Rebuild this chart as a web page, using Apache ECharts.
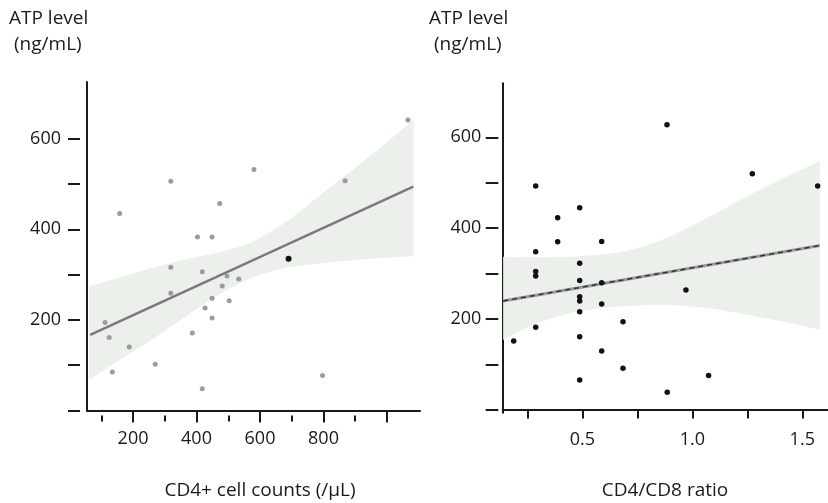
<!DOCTYPE html>
<html>
<head>
<meta charset="utf-8">
<script src="https://cdn.jsdelivr.net/npm/echarts@6/dist/echarts.min.js"></script>
<style>
  html, body { margin: 0; padding: 0; background: #fff; }
  #chart { width: 828px; height: 503px; }
</style>
</head>
<body>
<div id="chart"></div>
<script>
// Left panel: ATP vs CD4+ cell counts
const cd4X = [1066, 319, 581, 868, 158, 473, 403, 449, 319, 418, 496, 533, 481, 319, 449, 503, 427, 449, 112, 387, 125, 188, 270, 135, 797, 418];
const cd4Y = [641, 506, 532, 507, 435, 457, 383, 383, 316, 306, 297, 290, 275, 259, 248, 242, 226, 204, 194, 171, 161, 140, 102, 85, 77, 48];
const cd4Dark = [[690, 335]];
const cd4FitX = [65, 1083];
const cd4FitY = [167, 494];
const cd4BandX = [62, 150, 250, 350, 450, 500, 550, 600, 650, 700, 800, 900, 1000, 1084];
const cd4BandLo = [68, 108, 152, 200, 248, 268, 286, 300, 310, 317, 326, 332, 337, 341];
const cd4BandHi = [274, 292, 313, 331, 346, 354, 364, 380, 401, 425, 481, 536, 592, 642];

// Right panel: ATP vs CD4/CD8 ratio
const ratioX = [0.885, 1.273, 1.57, 0.288, 0.488, 0.388, 0.388, 0.588, 0.288, 0.288, 0.288, 0.488, 0.488, 0.588, 0.488, 0.488, 0.488, 0.588, 0.971, 0.685, 0.288, 0.188, 0.488, 0.588, 0.685, 1.074, 0.488, 0.886];
const ratioY = [628, 520, 493, 493, 445, 423, 370, 371, 348, 305, 295, 323, 285, 280, 249, 240, 216, 233, 264, 194, 182, 152, 161, 130, 92, 76, 66, 39];
const ratioFitX = [0.14, 1.58];
const ratioFitY = [240, 362];
const ratioBandX = [0.14, 0.2, 0.3, 0.45, 0.6, 0.7, 0.8, 0.9, 1.0, 1.1, 1.2, 1.3, 1.4, 1.5, 1.58];
const ratioBandLo = [154, 170, 193, 214, 225, 229, 231, 231, 228, 222, 214, 205, 196, 186, 176];
const ratioBandHi = [337, 336, 336, 337, 342, 350, 363, 382, 406, 431, 458, 483, 507, 530, 548];

// ticks and labels
const cd4MajorTicks = [200, 400, 600, 800, 1000];
const cd4MinorTicks = [100, 300, 500, 700, 900];
const cd4Labels = [200, 400, 600, 800];
const ratioTicks = [0.25, 0.5, 0.75, 1.0, 1.25, 1.5];
const ratioLabels = [0.5, 1.0, 1.5];
const atpTicks = [0, 100, 200, 300, 400, 500, 600];
const atpLabels = [200, 400, 600];

const FONT = 'Open Sans';
const ink = '#1a1a1a';
const chart = echarts.init(document.getElementById('chart'));

const pair = (xs, ys) => xs.map((x, i) => [x, ys[i]]);

const bandSeries = (xs, lo, hi, axisIdx) => ({
    type: 'custom',
    xAxisIndex: axisIdx,
    yAxisIndex: axisIdx,
    silent: true,
    z: 1,
    data: [[xs[0], lo[0]]],
    renderItem: (params, api) => {
        const pts = [];
        xs.forEach((x, i) => pts.push(api.coord([x, hi[i]])));
        for (let i = xs.length - 1; i >= 0; i--) pts.push(api.coord([xs[i], lo[i]]));
        return { type: 'polygon', shape: { points: pts }, style: { fill: '#ebf0ea' } };
    }
});

const mainX = (grid, min, max) => ({
    type: 'value', gridIndex: grid, min, max,
    axisLine: { lineStyle: { color: ink, width: 2 } },
    axisTick: { show: false }, axisLabel: { show: false }, splitLine: { show: false }
});
const mainY = (grid, min, max) => ({
    type: 'value', gridIndex: grid, min, max,
    axisLine: { show: true, lineStyle: { color: ink, width: 2 } },
    axisTick: { show: false }, axisLabel: { show: false }, splitLine: { show: false }
});
const tickAxis = (kind, grid, min, max, offset, ticks, len, labels, margin, fmt) => ({
    type: 'value', gridIndex: grid, min, max, offset,
    position: kind === 'x' ? 'bottom' : 'left',
    axisLine: { show: false },
    axisTick: { show: true, customValues: ticks, length: len, lineStyle: { color: ink, width: 2 } },
    axisLabel: labels ? {
        show: true, customValues: labels, margin, color: ink,
        fontFamily: FONT, fontSize: 18, formatter: fmt
    } : { show: false },
    splitLine: { show: false }
});

const txt = (text, x, y, align) => ({
    type: 'text', x, y,
    style: { text, font: '19px "Open Sans"', fill: ink, align: align || 'left', verticalAlign: 'middle' }
});

chart.setOption({
    animation: false,
    grid: [
        { left: 87, top: 82, width: 333, height: 328.5 },
        { left: 502.7, top: 83.3, width: 325.3, height: 329.4 }
    ],
    xAxis: [
        mainX(0, 55, 1104),
        mainX(1, 0.138, 1.617),
        tickAxis('x', 0, 55, 1104, 3, cd4MajorTicks, 12, cd4Labels, 16, v => String(v)),
        tickAxis('x', 0, 55, 1104, 5, cd4MinorTicks, 6, null),
        tickAxis('x', 1, 0.138, 1.617, 4, ratioTicks, 8.5, ratioLabels, 14, v => v.toFixed(1))
    ],
    yAxis: [
        mainY(0, 0, 725),
        mainY(1, -6, 719),
        tickAxis('y', 0, 0, 725, 7, atpTicks, 12, atpLabels, 19, v => String(v)),
        tickAxis('y', 1, -6, 719, 4.4, atpTicks, 12.6, atpLabels, 17, v => String(v))
    ],
    graphic: [
        txt('ATP level', 9, 19),
        txt('(ng/mL)', 14, 45),
        txt('ATP level', 429, 19),
        txt('(ng/mL)', 434, 45),
        txt('CD4+ cell counts (/µL)', 260, 491, 'center'),
        txt('CD4/CD8 ratio', 665, 491, 'center')
    ],
    series: [
        bandSeries(cd4BandX, cd4BandLo, cd4BandHi, 0),
        bandSeries(ratioBandX, ratioBandLo, ratioBandHi, 1),
        {
            type: 'line', xAxisIndex: 0, yAxisIndex: 0, z: 3, symbol: 'none',
            data: pair(cd4FitX, cd4FitY),
            lineStyle: { color: '#7a7a7a', width: 2.5 }
        },
        {
            type: 'line', xAxisIndex: 1, yAxisIndex: 1, z: 3, symbol: 'none',
            data: pair(ratioFitX, ratioFitY),
            lineStyle: { color: '#9a9a9a', width: 3 }
        },
        {
            type: 'line', xAxisIndex: 1, yAxisIndex: 1, z: 4, symbol: 'none',
            data: pair(ratioFitX, ratioFitY),
            lineStyle: { color: '#333', width: 1.5, type: [5, 4] }
        },
        {
            type: 'scatter', xAxisIndex: 0, yAxisIndex: 0, z: 5,
            data: pair(cd4X, cd4Y), symbolSize: 5,
            itemStyle: { color: '#9b9b9b', opacity: 1 }
        },
        {
            type: 'scatter', xAxisIndex: 0, yAxisIndex: 0, z: 5,
            data: cd4Dark, symbolSize: 6,
            itemStyle: { color: '#111', opacity: 1 }
        },
        {
            type: 'scatter', xAxisIndex: 1, yAxisIndex: 1, z: 5,
            data: pair(ratioX, ratioY), symbolSize: 5.5,
            itemStyle: { color: '#111', opacity: 1 }
        }
    ]
});
</script>
</body>
</html>
